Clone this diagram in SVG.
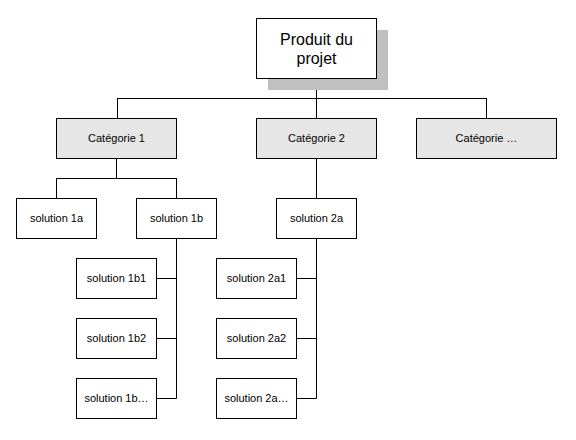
<svg xmlns="http://www.w3.org/2000/svg" width="576" height="440" viewBox="0 0 576 440">
<style>
.b{fill:#fff;stroke:#000;stroke-width:1}
.c{fill:#e6e6e6;stroke:#000;stroke-width:1}
.sh{fill:#c0c0c0}
.t{font-family:"Liberation Sans",Arial,sans-serif;font-size:11px;fill:#000;text-anchor:middle}
.tr{font-family:"Liberation Sans",Arial,sans-serif;font-size:16px;fill:#000;text-anchor:middle}
.l{fill:none;stroke:#000;stroke-width:1}
</style>
<rect width="576" height="440" fill="#fff"/>
<g id="connectors">
<path class="l" d="M316.5 78V98.5M117.5 98.5H486.5M117.5 98V118M316.5 98V118M486.5 98V118"/>
<path class="l" d="M116.5 158V178.5M56.5 178.5H176.5M56.5 178V198M176.5 178V198"/>
<path class="l" d="M176.5 238V398.5M156 278.5H176.5M156 338.5H176.5M156 398.5H176.5"/>
<path class="l" d="M316.5 158V198M316.5 238V398.5M296 278.5H316.5M296 338.5H316.5M296 398.5H316.5"/>
</g>
<g id="root">
<rect class="sh" x="268" y="30" width="120" height="60"/>
<rect class="b" x="256.5" y="18.5" width="120" height="60"/>
<text class="tr" x="316.5" y="45">Produit du</text>
<text class="tr" x="316.5" y="64">projet</text>
</g>
<g id="cat1"><rect class="c" x="56.5" y="118.5" width="120" height="40"/><text class="t" x="116.5" y="142">Catégorie 1</text></g>
<g id="cat2"><rect class="c" x="256.5" y="118.5" width="120" height="40"/><text class="t" x="316.5" y="142">Catégorie 2</text></g>
<g id="cat3"><rect class="c" x="416.5" y="118.5" width="140" height="40"/><text class="t" x="486.5" y="142">Catégorie …</text></g>
<g id="sol1a"><rect class="b" x="16.5" y="198.5" width="80" height="40"/><text class="t" x="56.5" y="222">solution 1a</text></g>
<g id="sol1b"><rect class="b" x="136.5" y="198.5" width="80" height="40"/><text class="t" x="176.5" y="222">solution 1b</text></g>
<g id="sol2a"><rect class="b" x="276.5" y="198.5" width="80" height="40"/><text class="t" x="316.5" y="222">solution 2a</text></g>
<g id="sol1b1"><rect class="b" x="76.5" y="258.5" width="80" height="40"/><text class="t" x="116.5" y="282">solution 1b1</text></g>
<g id="sol1b2"><rect class="b" x="76.5" y="318.5" width="80" height="40"/><text class="t" x="116.5" y="342">solution 1b2</text></g>
<g id="sol1b3"><rect class="b" x="76.5" y="378.5" width="80" height="40"/><text class="t" x="116.5" y="402">solution 1b…</text></g>
<g id="sol2a1"><rect class="b" x="216.5" y="258.5" width="80" height="40"/><text class="t" x="256.5" y="282">solution 2a1</text></g>
<g id="sol2a2"><rect class="b" x="216.5" y="318.5" width="80" height="40"/><text class="t" x="256.5" y="342">solution 2a2</text></g>
<g id="sol2a3"><rect class="b" x="216.5" y="378.5" width="80" height="40"/><text class="t" x="256.5" y="402">solution 2a…</text></g>
</svg>
